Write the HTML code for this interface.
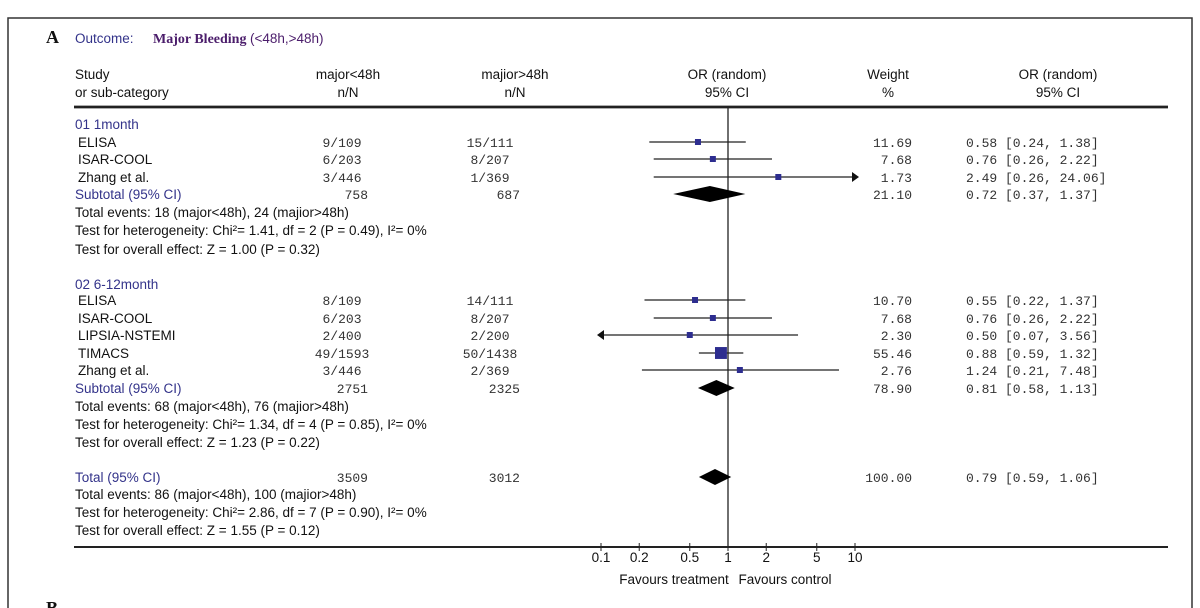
<!DOCTYPE html>
<html><head><meta charset="utf-8">
<style>
html,body{margin:0;padding:0;background:#fff;}
svg{display:block;}
.t{font-family:"Liberation Sans",sans-serif;font-size:13.5px;fill:#111;}
.b{fill:#33338a;}
.m{font-family:"Liberation Mono",monospace;font-size:13px;fill:#333;}
</style></head>
<body>
<svg id="plot" width="1200" height="608" viewBox="0 0 1200 608" xmlns="http://www.w3.org/2000/svg">
<rect x="8" y="18" width="1184" height="600" fill="none" stroke="#333" stroke-width="1.5"/>
<text x="46" y="43" font-family="Liberation Serif" font-weight="bold" font-size="18" fill="#111">A</text>
<text x="75" y="43" class="t b">Outcome:</text>
<text x="153" y="43" font-family="Liberation Serif" font-weight="bold" font-size="14" fill="#4b1d6b">Major Bleeding <tspan font-family="Liberation Sans" font-weight="normal" font-size="13.5">(&lt;48h,&gt;48h)</tspan></text>
<g>
<text x="75" y="79" class="t">Study</text><text x="75" y="97" class="t">or sub-category</text>
<text x="348" y="79" class="t" text-anchor="middle">major&lt;48h</text><text x="348" y="97" class="t" text-anchor="middle">n/N</text>
<text x="515" y="79" class="t" text-anchor="middle">majior&gt;48h</text><text x="515" y="97" class="t" text-anchor="middle">n/N</text>
<text x="727" y="79" class="t" text-anchor="middle">OR (random)</text><text x="727" y="97" class="t" text-anchor="middle">95% CI</text>
<text x="888" y="79" class="t" text-anchor="middle">Weight</text><text x="888" y="97" class="t" text-anchor="middle">%</text>
<text x="1058" y="79" class="t" text-anchor="middle">OR (random)</text><text x="1058" y="97" class="t" text-anchor="middle">95% CI</text>
</g>
<line x1="74" y1="107" x2="1168" y2="107" stroke="#222" stroke-width="2.8"/>
<line x1="74" y1="547" x2="1168" y2="547" stroke="#222" stroke-width="2"/>
<g id="rows"></g>
<g id="marks"></g>
<g id="axis"></g>
<text x="674" y="584" class="t" font-size="13" text-anchor="middle">Favours treatment</text>
<text x="785" y="584" class="t" font-size="13" text-anchor="middle">Favours control</text>
<text x="46" y="614" font-family="Liberation Serif" font-weight="bold" font-size="18" fill="#111">B</text>
</svg>
<script>
const studies = ["ELISA","ISAR-COOL","Zhang et al.","ELISA","ISAR-COOL","LIPSIA-NSTEMI","TIMACS","Zhang et al."];
const groupA = ["9/109","6/203","3/446","8/109","6/203","2/400","49/1593","3/446"];
const groupB = ["15/111","8/207","1/369","14/111","8/207","2/200","50/1438","2/369"];
const orVals = [0.58,0.76,2.49,0.55,0.76,0.50,0.88,1.24];
const ciLow = [0.24,0.26,0.26,0.22,0.26,0.07,0.59,0.21];
const ciHigh = [1.38,2.22,24.06,1.37,2.22,3.56,1.32,7.48];
const weights = [11.69,7.68,1.73,10.70,7.68,2.30,55.46,2.76];
const studyRowY = [142,159,177,300,318,335,353,370];
const pooledNames = ["Subtotal (95% CI)","Subtotal (95% CI)","Total (95% CI)"];
const pooledA = ["758","2751","3509"];
const pooledB = ["687","2325","3012"];
const pooledOR = [0.72,0.81,0.79];
const pooledLow = [0.37,0.58,0.59];
const pooledHigh = [1.37,1.13,1.06];
const pooledW = ["21.10","78.90","100.00"];
const pooledY = [194,388,477];
const ticks = [0.1,0.2,0.5,1,2,5,10];
const tickLabels = ["0.1","0.2","0.5","1","2","5","10"];
const notes = [
 [124,"01 1month",true],[212,"Total events: 18 (major<48h), 24 (majior>48h)",false],
 [230,"Test for heterogeneity: Chi²= 1.41, df = 2 (P = 0.49), I²= 0%",false],[249,"Test for overall effect: Z = 1.00 (P = 0.32)",false],
 [284,"02 6-12month",true],[406,"Total events: 68 (major<48h), 76 (majior>48h)",false],
 [424,"Test for heterogeneity: Chi²= 1.34, df = 4 (P = 0.85), I²= 0%",false],[442,"Test for overall effect: Z = 1.23 (P = 0.22)",false],
 [494,"Total events: 86 (major<48h), 100 (majior>48h)",false],
 [512,"Test for heterogeneity: Chi²= 2.86, df = 7 (P = 0.90), I²= 0%",false],[530,"Test for overall effect: Z = 1.55 (P = 0.12)",false]
];
const NS="http://www.w3.org/2000/svg";
const X0=728, DEC=127, XMIN=0.1, XMAX=10;
function xs(v){return X0+DEC*Math.log10(v);}
function mk(tag,attrs,parent,txt){const e=document.createElementNS(NS,tag);for(const k in attrs)e.setAttribute(k,attrs[k]);if(txt!==undefined)e.textContent=txt;parent.appendChild(e);return e;}
const rows=document.getElementById('rows'), marks=document.getElementById('marks'), axis=document.getElementById('axis');
let vl=mk('line',{x1:X0,y1:107,x2:X0,y2:547,stroke:'#222','stroke-width':1.3},marks);


notes.forEach(n=>{
 const t=mk('text',{x:75,y:n[0]+5,class:n[2]?'t b':'t'},rows,n[1]);
 
 
});
studies.forEach((s,i)=>{
 const y=studyRowY[i];
 const g=mk('g',{},rows);
 
 
 mk('text',{x:78,y:y+5,class:'t'},g,s);
 mk('text',{x:342,y:y+5,class:'m','text-anchor':'middle'},g,groupA[i]);
 mk('text',{x:490,y:y+5,class:'m','text-anchor':'middle'},g,groupB[i]);
 mk('text',{x:912,y:y+5,class:'m','text-anchor':'end'},g,weights[i].toFixed(2));
 mk('text',{x:966,y:y+5,class:'m'},g,orVals[i].toFixed(2)+" ["+ciLow[i].toFixed(2)+", "+ciHigh[i].toFixed(2)+"]");
 const lo=Math.max(ciLow[i],XMIN), hi=Math.min(ciHigh[i],XMAX);
 const x1=xs(lo), x2=xs(hi);
 const ln=mk('line',{x1:x1,y1:y,x2:x2,y2:y,stroke:'#222','stroke-width':1.3},marks);
 
 
 if(ciHigh[i]>XMAX){const a=mk('polygon',{points:`${x2+4},${y} ${x2-3},${y-5} ${x2-3},${y+5}`,fill:'#111'},marks);
  
  }
 if(ciLow[i]<XMIN){const a=mk('polygon',{points:`${x1-4},${y} ${x1+3},${y-5} ${x1+3},${y+5}`,fill:'#111'},marks);
  
  }
 const sz=Math.max(6,Math.sqrt(weights[i])*1.6);
 const sq=mk('rect',{x:xs(orVals[i])-sz/2,y:y-sz/2,width:sz,height:sz,fill:'#2d2d8f'},marks);
 
 
});
pooledNames.forEach((s,i)=>{
 const y=pooledY[i];
 const g=mk('g',{},rows);
 
 
 mk('text',{x:75,y:y+5,class:'t b'},g,s);
 mk('text',{x:368,y:y+5,class:'m b','text-anchor':'end'},g,pooledA[i]);
 mk('text',{x:520,y:y+5,class:'m b','text-anchor':'end'},g,pooledB[i]);
 mk('text',{x:912,y:y+5,class:'m b','text-anchor':'end'},g,pooledW[i]);
 mk('text',{x:966,y:y+5,class:'m b'},g,pooledOR[i].toFixed(2)+" ["+pooledLow[i].toFixed(2)+", "+pooledHigh[i].toFixed(2)+"]");
 const d=mk('polygon',{points:`${xs(pooledLow[i])},${y} ${xs(pooledOR[i])},${y-8} ${xs(pooledHigh[i])},${y} ${xs(pooledOR[i])},${y+8}`,fill:'#000'},marks);
 
 
});
ticks.forEach((v,i)=>{
 const x=xs(v);
 const tk=mk('line',{x1:x,y1:543,x2:x,y2:551,stroke:'#222','stroke-width':1},axis);
 
 
 const tl=mk('text',{x:x,y:562,class:'t','font-size':13,'text-anchor':'middle'},axis,tickLabels[i]);
 
 
});
</script>
</body></html>
